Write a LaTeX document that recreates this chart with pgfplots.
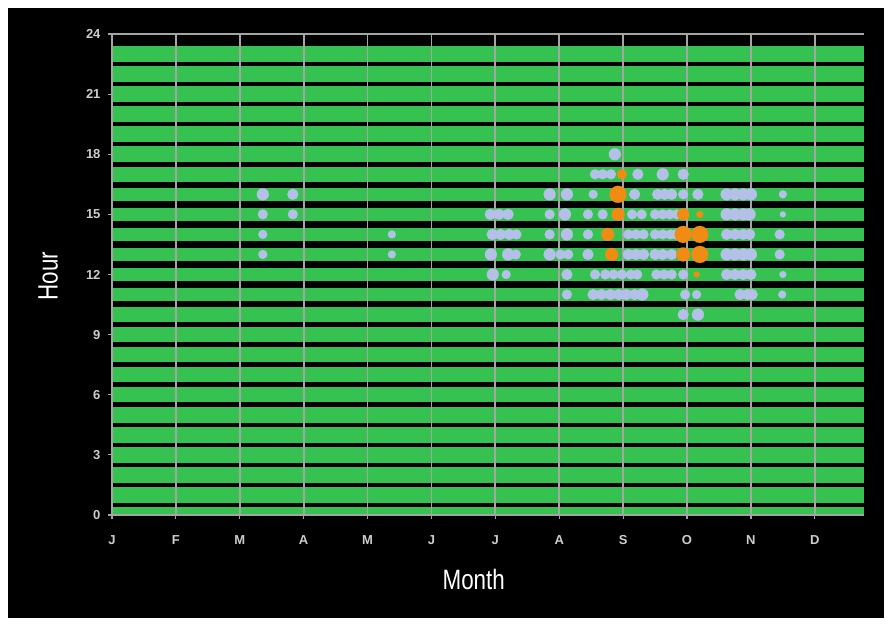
\documentclass[border=0pt]{standalone}
\usepackage{fontspec}
\setmainfont{Liberation Sans}
\newfontfamily\narrowfont[FakeStretch=0.8]{Liberation Sans}
\usepackage{pgfplots}
\pgfplotsset{compat=1.18}
\usepackage{pgfplotstable}

\definecolor{bandgreen}{RGB}{53,194,80}
\definecolor{dotblue}{RGB}{180,192,232}
\definecolor{dotorange}{RGB}{240,140,20}
\definecolor{gridgray}{RGB}{165,165,165}
\definecolor{ticktext}{RGB}{205,205,205}

\pgfplotstableread{
x y s
2.36 16 6
2.36 15 5
2.36 14 4.5
2.36 13 4.5
2.83 16 5.5
2.83 15 5
4.38 14 4
4.38 13 4
5.92 15 5.5
6.06 15 5.5
6.20 15 5.5
5.95 14 5.5
6.08 14 5.5
6.22 14 5.5
6.33 14 5
5.93 13 6
6.20 13 6
6.32 13 5
5.96 12 6
6.17 12 4.5
6.85 16 6
7.12 16 6
6.85 15 5
7.09 15 6
6.85 14 5
7.12 14 6
6.85 13 6
7.02 13 5
7.14 13 5
7.12 12 5.5
7.12 11 5
7.87 18 6
7.56 17 5
7.68 17 5
7.81 17 5
8.23 17 5.5
8.62 17 6
8.94 17 5.5
7.53 16 4.5
8.18 16 5.5
8.54 16 5.5
8.65 16 5.5
8.76 16 5.5
8.94 16 5
9.17 16 5.5
9.62 16 6
9.75 16 6
9.88 16 6
10.00 16 6
10.50 16 4
7.45 15 5
7.68 15 5
8.14 15 5
8.29 15 5
8.50 15 5
8.62 15 5
8.73 15 5
8.84 15 5
9.62 15 6
9.75 15 6
9.88 15 6
9.98 15 6
10.50 15 3
7.45 14 5
8.08 14 5
8.20 14 5
8.32 14 5
8.50 14 5
8.62 14 5
8.74 14 5
8.82 14 5
9.62 14 5.5
9.75 14 5.5
9.88 14 5.5
9.98 14 5.5
10.45 14 5
7.45 13 5.5
8.08 13 5.5
8.20 13 5.5
8.32 13 5.5
8.50 13 5.5
8.62 13 5.5
8.76 13 5.5
9.62 13 6
9.75 13 6
9.88 13 6
10.00 13 6
10.45 13 5
7.56 12 5
7.72 12 5
7.85 12 5
7.98 12 5
8.12 12 5
8.22 12 5
8.52 12 5
8.64 12 5
8.76 12 5
8.94 12 5
9.62 12 5.5
9.75 12 5.5
9.88 12 5.5
10.00 12 5.5
10.50 12 3.5
7.53 11 5.5
7.66 11 5.5
7.80 11 5.5
7.93 11 5.5
8.05 11 5.5
8.18 11 5.5
8.30 11 6
8.97 11 5
9.15 11 4.5
9.83 11 5.5
9.95 11 5.5
10.02 11 5.5
10.49 11 4
8.94 10 5.5
9.17 10 6
}\bluedots

\pgfplotstableread{
x y s
7.98 17 5
7.92 16 8.5
7.92 15 6.5
8.94 15 6
9.20 15 3.5
7.76 14 6.5
8.94 14 8.5
9.20 14 8.5
7.82 13 6.5
8.94 13 7
9.20 13 8.5
9.15 12 3
}\orangedots

\begin{document}
\begin{tikzpicture}
\fill[white] (0,0) rectangle (890pt,626pt);
\fill[black] (8pt,8pt) rectangle (884pt,618pt);
\useasboundingbox (0,0) rectangle (890pt,626pt);
\begin{axis}[
  at={(112pt,111pt)}, anchor=south west,
  scale only axis, width=752pt, height=481pt,
  xmin=0, xmax=11.77, ymin=0, ymax=24,
  xtick={0,...,11},
  xticklabels={J,F,M,A,M,J,J,A,S,O,N,D},
  ytick={0,3,...,24},
  axis lines=left,
  axis line style={-, draw=gridgray, line width=1.6pt},
  tick align=outside, major tick length=4pt,
  tick style={draw=gridgray, line width=1.2pt},
  xmajorgrids,
  major grid style={draw=gridgray, line width=1.8pt},
  extra y ticks={24}, extra y tick labels={},
  extra y tick style={grid=major, major grid style={draw=gridgray, line width=1.8pt}},
  axis on top,
  /pgf/number format/assume math mode=true,
  ticklabel style={font=\bfseries\fontsize{13}{13}\selectfont, text=ticktext},
  xticklabel style={yshift=-13pt},
  yticklabel style={xshift=-4pt},
  xlabel={Month}, ylabel={Hour},
  label style={font=\narrowfont\fontsize{28}{28}\selectfont, text=white},
  xlabel style={at={(axis description cs:0.481,-0.135)}, anchor=center},
  ylabel style={at={(axis description cs:-0.085,0.497)}, anchor=center},
]
\pgfplotsinvokeforeach{0,...,10,17,18,...,23}{
  \addplot[draw=bandgreen, line width=15.5pt] coordinates {(0,#1) (11.77,#1)};
}
\pgfplotsinvokeforeach{11,...,16}{
  \addplot[draw=bandgreen, line width=13.5pt] coordinates {(0,#1) (11.77,#1)};
}
\addplot[scatter, only marks, mark=*,
  scatter/use mapped color={draw=dotblue, fill=dotblue},
  mark options={line width=0.1pt},
  visualization depends on={\thisrow{s} \as \perpointsize},
  scatter/@pre marker code/.append style={/tikz/mark size=\perpointsize pt}]
  table[x=x, y=y, meta=s] {\bluedots};
\addplot[scatter, only marks, mark=*,
  scatter/use mapped color={draw=dotorange, fill=dotorange},
  mark options={line width=0.1pt},
  visualization depends on={\thisrow{s} \as \perpointsize},
  scatter/@pre marker code/.append style={/tikz/mark size=\perpointsize pt}]
  table[x=x, y=y, meta=s] {\orangedots};
\end{axis}
\end{tikzpicture}
\end{document}
